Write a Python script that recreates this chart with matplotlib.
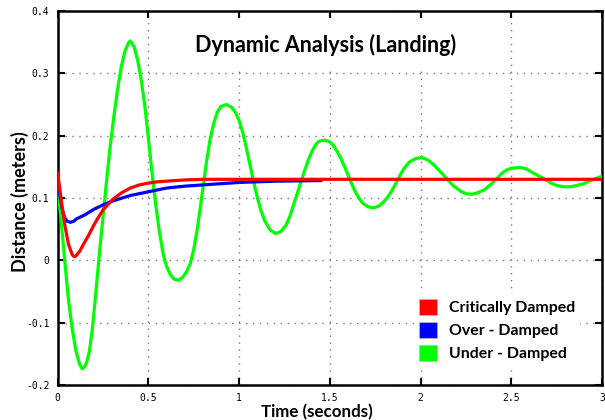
import matplotlib
matplotlib.use("Agg")
import matplotlib.pyplot as plt
from matplotlib.patches import Patch

# values
t_crit = [0.0, 0.02, 0.04, 0.06, 0.08, 0.09, 0.10, 0.12, 0.15, 0.17, 0.20, 0.22, 0.25,
          0.30, 0.35, 0.40, 0.45, 0.50, 0.55, 0.60, 0.70, 0.80, 1.0, 1.5, 2.0, 2.5, 3.0]
d_crit = [0.140, 0.095, 0.055, 0.025, 0.009, 0.006, 0.007, 0.014, 0.030, 0.040, 0.057,
          0.067, 0.081, 0.097, 0.108, 0.116, 0.121, 0.124, 0.126, 0.127, 0.129, 0.130,
          0.130, 0.130, 0.130, 0.130, 0.130]

t_over = [0.0, 0.01, 0.02, 0.03, 0.04, 0.05, 0.07, 0.09, 0.10, 0.15, 0.20, 0.25, 0.30,
          0.40, 0.50, 0.60, 0.70, 0.80, 0.90, 1.00, 1.20, 1.45]
d_over = [0.125, 0.108, 0.090, 0.076, 0.068, 0.063, 0.061, 0.063, 0.066, 0.073, 0.082,
          0.089, 0.095, 0.104, 0.110, 0.116, 0.119, 0.121, 0.123, 0.125, 0.127, 0.128]

t_under = [0.0, 0.02, 0.04, 0.06, 0.08, 0.10, 0.12, 0.135, 0.15, 0.16, 0.175, 0.19,
           0.205, 0.22, 0.235, 0.25, 0.27, 0.29, 0.31, 0.33, 0.35, 0.37, 0.39, 0.40,
           0.42, 0.44, 0.46, 0.48, 0.50, 0.52, 0.54, 0.56, 0.58, 0.60, 0.62, 0.64, 0.665,
           0.69, 0.71, 0.73, 0.75, 0.77, 0.78, 0.80, 0.82, 0.84, 0.86, 0.88, 0.90, 0.93,
           0.96, 0.98, 1.00, 1.02, 1.04, 1.06, 1.08, 1.10, 1.12, 1.14, 1.17, 1.20, 1.23,
           1.26, 1.28, 1.30, 1.32, 1.34, 1.36, 1.38, 1.40, 1.42, 1.44, 1.47, 1.50, 1.52,
           1.54, 1.56, 1.58, 1.60, 1.62, 1.64, 1.66, 1.68, 1.71, 1.74, 1.77, 1.79, 1.81,
           1.83, 1.85, 1.87, 1.89, 1.91, 1.94, 1.97, 2.007, 2.04, 2.07, 2.11, 2.144, 2.18,
           2.22, 2.25, 2.282, 2.31, 2.35, 2.38, 2.416, 2.45, 2.48, 2.51, 2.548, 2.58, 2.61,
           2.66, 2.686, 2.72, 2.75, 2.79, 2.824, 2.86, 2.90, 2.953, 3.0]
d_under = [0.120, 0.060, -0.005, -0.065, -0.110, -0.145, -0.166, -0.174, -0.170, -0.163,
           -0.145, -0.112, -0.068, -0.020, 0.027, 0.070, 0.130, 0.185, 0.232, 0.275,
           0.310, 0.335, 0.349, 0.352, 0.343, 0.322, 0.290, 0.248, 0.195, 0.140, 0.090,
           0.047, 0.012, -0.010, -0.022, -0.030, -0.032, -0.027, -0.018, -0.006, 0.018,
           0.052, 0.072, 0.115, 0.158, 0.194, 0.220, 0.238, 0.247, 0.250, 0.245, 0.237,
           0.224, 0.205, 0.180, 0.153, 0.126, 0.101, 0.080, 0.064, 0.049, 0.043, 0.046,
           0.057, 0.071, 0.089, 0.107, 0.125, 0.143, 0.160, 0.174, 0.185, 0.191, 0.193,
           0.190, 0.184, 0.175, 0.164, 0.151, 0.137, 0.123, 0.110, 0.100, 0.092, 0.086,
           0.084, 0.087, 0.092, 0.098, 0.106, 0.116, 0.127, 0.138, 0.148, 0.158, 0.163,
           0.165, 0.161, 0.154, 0.142, 0.131, 0.120, 0.111, 0.107, 0.106, 0.108, 0.113,
           0.120, 0.130, 0.140, 0.146, 0.148, 0.149, 0.147, 0.142, 0.134, 0.130, 0.124,
           0.120, 0.118, 0.118, 0.120, 0.123, 0.130, 0.135]

labels = ['Critically Damped', 'Over - Damped', 'Under - Damped']
colors = ['#ff0000', '#0000ff', '#00ff00']

fig = plt.figure(figsize=(6.05, 4.2), dpi=100)
ax = fig.add_axes([0.0954, 0.0833, 0.8996, 0.8905])

ax.plot(t_under, d_under, color=colors[2], lw=2.3, zorder=3)
ax.plot(t_over, d_over, color=colors[1], lw=2.3, zorder=4)
ax.plot(t_crit, d_crit, color=colors[0], lw=2.3, zorder=5)

ax.set_xlim(0, 3)
ax.set_ylim(-0.2, 0.4)
ax.set_xticks([0, 0.5, 1, 1.5, 2, 2.5, 3])
ax.set_xticklabels(['0', '0.5', '1', '1.5', '2', '2.5', '3'])
ax.set_yticks([-0.2, -0.1, 0, 0.1, 0.2, 0.3, 0.4])
ax.set_yticklabels(['-0.2', '-0.1', '0', '0.1', '0.2', '0.3', '0.4'])
ax.tick_params(direction='in', length=5, width=1.5, top=True, right=True,
               labelsize=7, pad=6)
for lab in ax.get_xticklabels() + ax.get_yticklabels():
    lab.set_family('DejaVu Sans Mono')
for sp in ax.spines.values():
    sp.set_linewidth(1.8)
ax.grid(True, color='#777777', linestyle=(0, (1, 4)), lw=1)
ax.set_axisbelow(True)

ax.set_xlabel('Time (seconds)', fontsize=12.2, fontweight='bold', family='Lato')
ax.xaxis.set_label_coords(0.476, -0.05)
ax.set_ylabel('Distance (meters)', fontsize=13, fontweight='bold', family='Lato')
ax.yaxis.set_label_coords(-0.053, 0.49)

ax.text(0.493, 0.91, 'Dynamic Analysis (Landing)', transform=ax.transAxes,
        ha='center', va='center', fontsize=15.5, fontweight='bold', family='Lato',
        bbox=dict(facecolor='white', edgecolor='none', pad=8), zorder=2)

handles = [Patch(facecolor=c, edgecolor='#bbbbbb', lw=0.5) for c in colors]
ax.legend(handles, labels, loc='lower right', bbox_to_anchor=(0.975, 0.03),
          prop={'family': 'Lato', 'weight': 'bold', 'size': 11.4},
          frameon=True, facecolor='white', edgecolor='none', framealpha=1,
          handlelength=1.15, handleheight=1.15, handletextpad=0.8, labelspacing=0.42,
          borderpad=0.3)

fig.savefig('out.png', dpi=100)
